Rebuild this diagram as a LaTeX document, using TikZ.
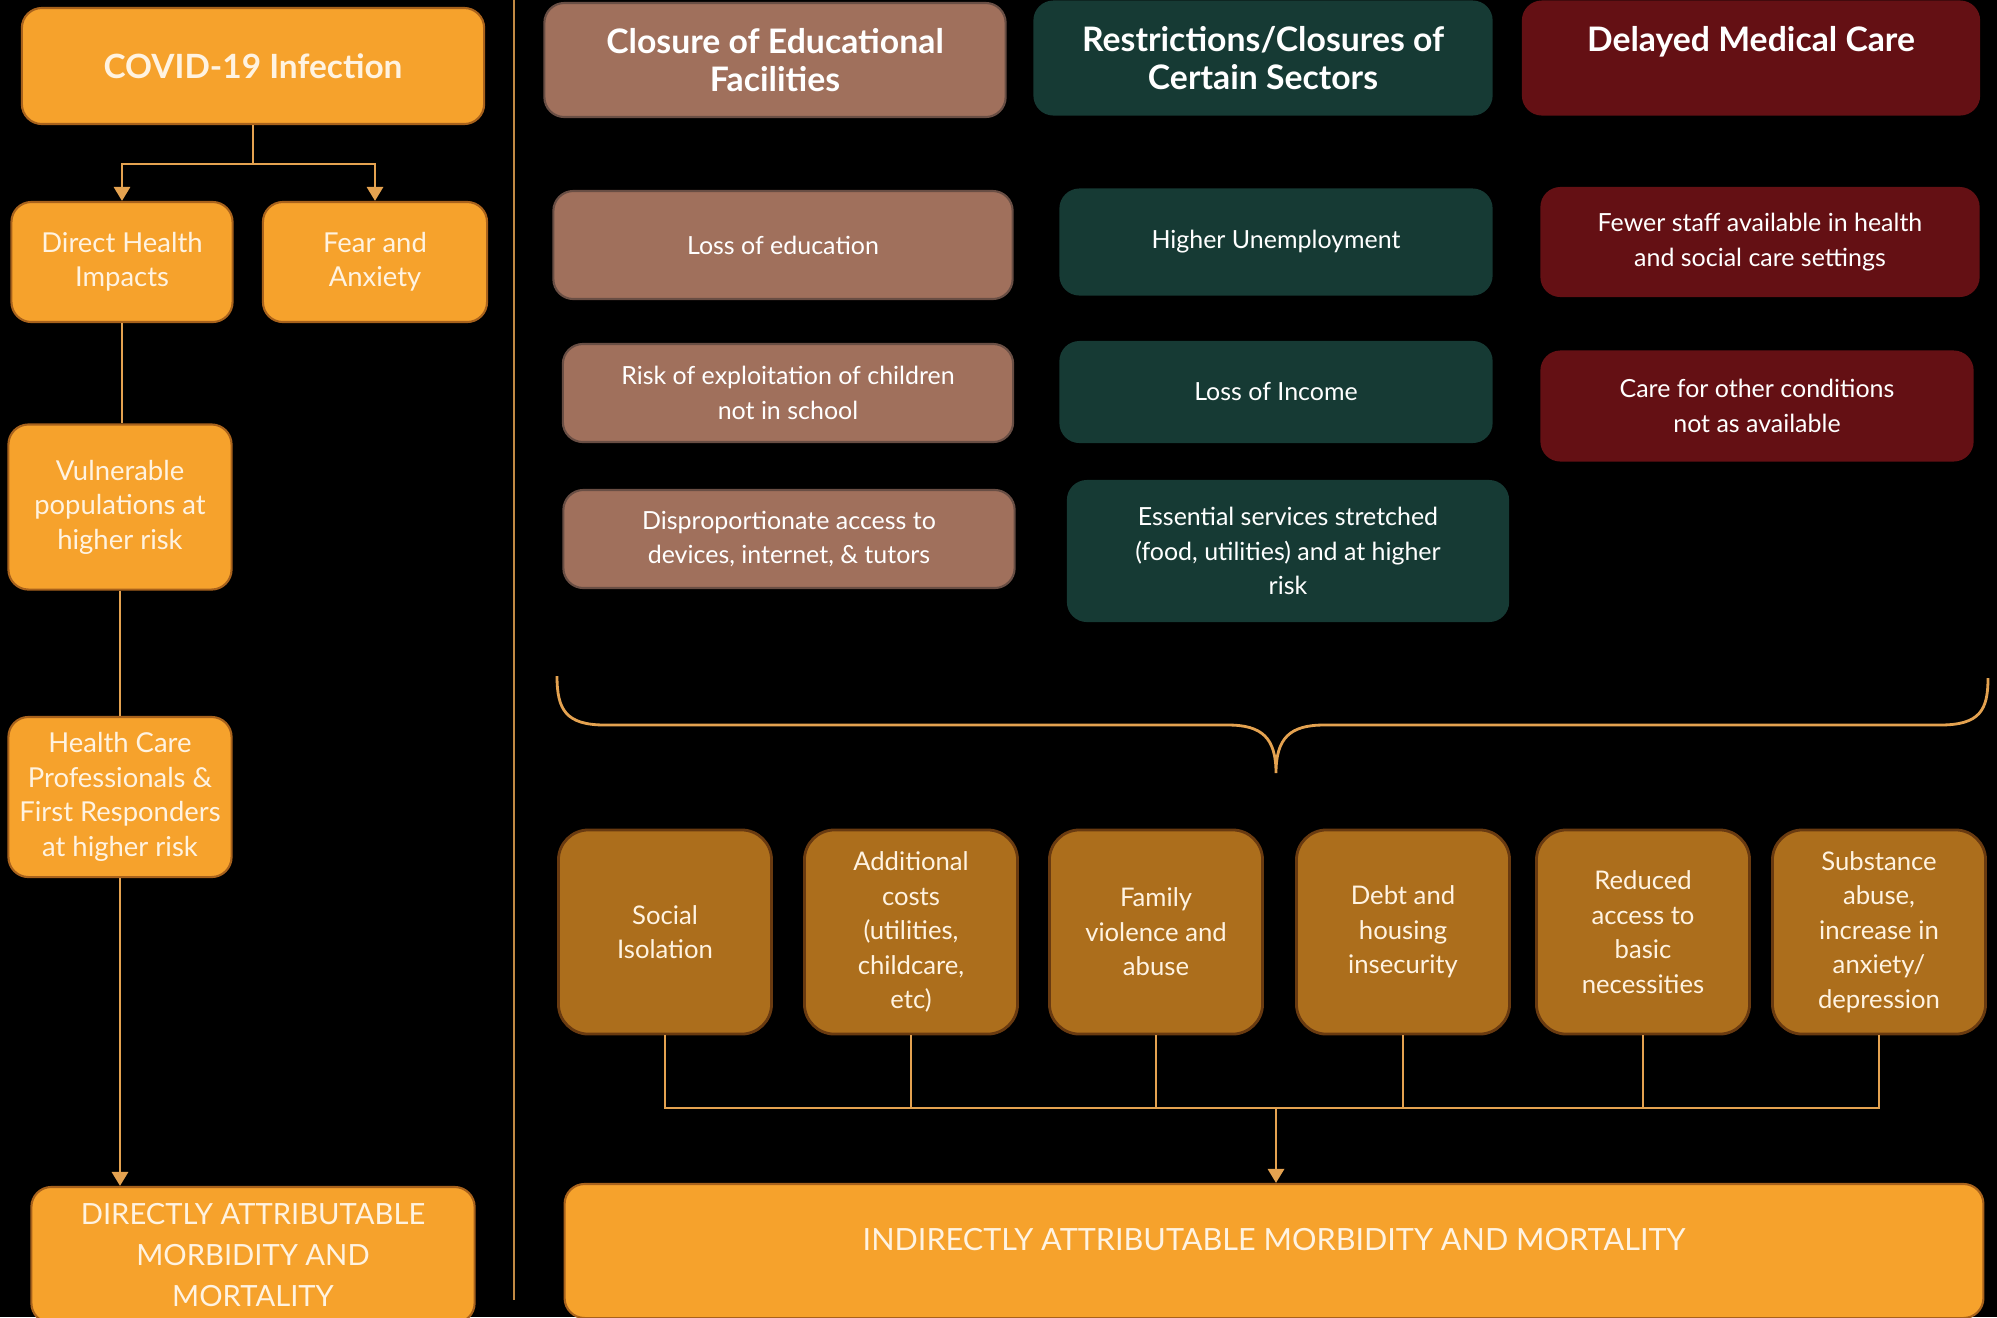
\documentclass[tikz,border=0pt]{standalone}
\usepackage{fontspec}
\setmainfont{Lato}
\usetikzlibrary{arrows.meta}
\definecolor{covidorange}{RGB}{246,162,44}
\definecolor{orangeedge}{RGB}{168,98,28}
\definecolor{edubrown}{RGB}{160,112,92}
\definecolor{eduedge}{RGB}{105,78,68}
\definecolor{restteal}{RGB}{22,58,52}
\definecolor{medred}{RGB}{100,16,20}
\definecolor{gold}{RGB}{172,110,28}
\definecolor{goldedge}{RGB}{105,58,16}
\definecolor{linegold}{RGB}{228,162,80}
\definecolor{cream}{RGB}{255,243,225}

\begin{document}
\begin{tikzpicture}[x=0.01cm,y=-0.01cm,>={Triangle[width=4.6pt,length=4pt]},
  box/.style={rounded corners=0.2cm,align=center,inner sep=0pt,text=cream},
  orangebox/.style={box,draw=orangeedge,line width=0.6pt,fill=covidorange,font=\fontsize{7.8}{9.8}\selectfont},
  headbox/.style={box,text=white,font=\bfseries\fontsize{9.6}{10.9}\selectfont},
  edubox/.style={box,draw=eduedge,line width=0.6pt,fill=edubrown,text=white,font=\fontsize{7.1}{9.9}\selectfont},
  restbox/.style={box,fill=restteal,text=white,font=\fontsize{7.1}{9.9}\selectfont},
  medbox/.style={box,fill=medred,text=white,font=\fontsize{7.1}{9.9}\selectfont},
  goldbox/.style={box,draw=goldedge,line width=0.8pt,fill=gold,rounded corners=0.3cm,minimum width=2.13cm,minimum height=2.04cm,font=\fontsize{7.3}{9.8}\selectfont},
  link/.style={draw=linegold,line width=0.8pt}]
\useasboundingbox (0,0) rectangle (1997,1317);
\clip (0,0) rectangle (1997,1317);
\fill[black] (0,0) rectangle (1997,1317);
\draw[linegold!85!black,line width=0.6pt] (514,0) -- (514,1300);

\path (253,66) node[orangebox,minimum width=4.62cm,minimum height=1.16cm,font=\bfseries\fontsize{9.5}{11}\selectfont] (covid) {COVID-19 Infection};
\path (122,262) node[orangebox,minimum width=2.21cm,minimum height=1.2cm] (direct) {Direct Health\\Impacts};
\path (375,262) node[orangebox,minimum width=2.24cm,minimum height=1.2cm] (fear) {Fear and\\Anxiety};
\path (120,507) node[orangebox,minimum width=2.23cm,minimum height=1.65cm] (vulner) {Vulnerable\\populations at\\higher risk};
\path (120,797) node[orangebox,minimum width=2.23cm,minimum height=1.6cm] (hcp) {Health Care\\Professionals \&\\First Responders\\at higher risk};
\path (253,1255) node[orangebox,minimum width=4.43cm,minimum height=1.36cm,font=\fontsize{8.3}{11.7}\selectfont] (directmm) {DIRECTLY ATTRIBUTABLE\\MORBIDITY AND\\MORTALITY};

\coordinate (split) at (253,164);
\draw[link] (covid) -- (split);
\draw[link,->] (split) -| (direct.north);
\draw[link,->] (split) -| (fear.north);
\draw[link] (direct.south) -- (direct.south |- vulner.north);
\draw[link] (vulner.south) -- (vulner.south |- hcp.north);
\draw[link,->] (hcp.south) -- (hcp.south |- directmm.north);

\path (775,60) node[headbox,edubox,font=\bfseries\fontsize{9.6}{10.9}\selectfont,minimum width=4.61cm,minimum height=1.14cm] (hedu) {Closure of Educational\\Facilities};
\path (1263,58) node[headbox,fill=restteal,minimum width=4.59cm,minimum height=1.15cm] (hrest) {Restrictions/Closures of\\Certain Sectors};
\path (1751,58) node[headbox,fill=medred,minimum width=4.58cm,minimum height=1.15cm] (hmed) {Delayed Medical Care\\ \phantom{D}};

\path (783,245) node[edubox,minimum width=4.59cm,minimum height=1.08cm] (edu1) {Loss of education};
\path (788,393) node[edubox,minimum width=4.5cm,minimum height=0.98cm] (edu2) {Risk of exploitation of children\\not in school};
\path (789,539) node[edubox,minimum width=4.51cm,minimum height=0.98cm] (edu3) {Disproportionate access to\\devices, internet, \& tutors};
\path (1276,242) node[restbox,minimum width=4.33cm,minimum height=1.07cm] (rest1) {Higher Unemployment};
\path (1276,392) node[restbox,minimum width=4.33cm,minimum height=1.02cm] (rest2) {Loss of Income};
\path (1288,551) node[restbox,minimum width=4.42cm,minimum height=1.42cm] (rest3) {Essential services stretched\\(food, utilities) and at higher\\risk};
\path (1760,242) node[medbox,minimum width=4.39cm,minimum height=1.1cm] (med1) {Fewer staff available in health\\and social care settings};
\path (1757,406) node[medbox,minimum width=4.33cm,minimum height=1.11cm] (med2) {Care for other conditions\\not as available};

\draw[link] (557,676) .. controls (557,710) and (566,725) .. (605,725) -- (1228,725)
  .. controls (1262,725) and (1276,738) .. (1276,773)
  .. controls (1276,738) and (1290,725) .. (1324,725) -- (1940,725)
  .. controls (1980,725) and (1988,710) .. (1988,678);

\path (665,932) node[goldbox] (s1) {Social\\Isolation};
\path (911,932) node[goldbox] (s2) {Additional\\costs\\(utilities,\\childcare,\\etc)};
\path (1156,932) node[goldbox] (s3) {Family\\violence and\\abuse};
\path (1403,932) node[goldbox] (s4) {Debt and\\housing\\insecurity};
\path (1643,932) node[goldbox] (s5) {Reduced\\access to\\basic\\necessities};
\path (1879,932) node[goldbox] (s6) {Substance\\abuse,\\increase in\\anxiety/\\depression};

\path (1274,1251) node[orangebox,minimum width=14.18cm,minimum height=1.34cm,text depth=6.8pt,font=\fontsize{8.7}{10}\selectfont] (indirect) {INDIRECTLY ATTRIBUTABLE MORBIDITY AND MORTALITY};

\coordinate (join) at (1276,1108);
\foreach \n in {1,...,6}
  \draw[link] (s\n.south) |- (join);
\draw[link,->] (join) -- (join |- indirect.north);
\end{tikzpicture}
\end{document}
